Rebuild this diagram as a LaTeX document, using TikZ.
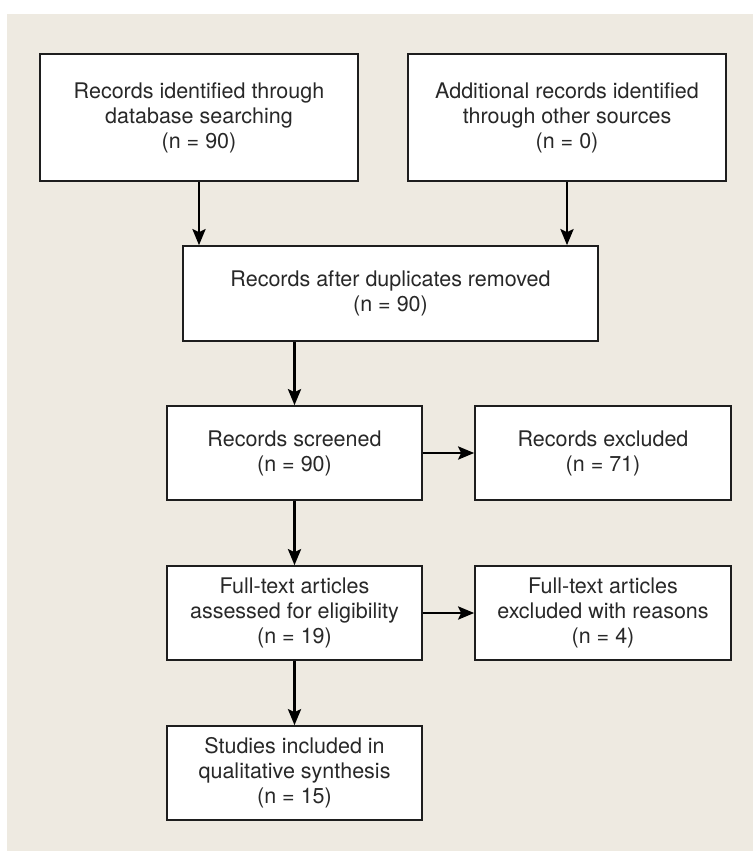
\documentclass[tikz,border=0pt]{standalone}
\usepackage{fontspec}
\setmainfont{TeX Gyre Heros}
\usetikzlibrary{arrows.meta}
\definecolor{bgbeige}{RGB}{238,234,225}
\definecolor{txtgray}{RGB}{40,40,40}
\definecolor{edgegray}{RGB}{30,30,30}
\tikzset{
  box/.style={draw=edgegray, line width=1.6pt, fill=white, rectangle, align=center,
    text=txtgray, font=\fontsize{21.5}{25}\selectfont, inner sep=0pt},
  flow/.style={line width=2.9pt, draw=black, -{Stealth[length=16pt,width=13pt,inset=3pt]}}
}
\begin{document}
\begin{tikzpicture}[x=1pt,y=-1pt]
\useasboundingbox (0,0) rectangle (753,851);
\fill[bgbeige] (7,14) rectangle (753,851);
\node[box, minimum width=318pt, minimum height=127pt] (b1) at (199,117.5)
  {Records identified through\\database searching\\(n = 90)};
\node[box, minimum width=318pt, minimum height=127pt] (b2) at (567,117.5)
  {Additional records identified\\through other sources\\(n = 0)};
\node[box, minimum width=415pt, minimum height=95pt] (b3) at (390.5,293.5)
  {Records after duplicates removed\\(n = 90)};
\node[box, minimum width=255pt, minimum height=94pt] (b4) at (294.5,453)
  {Records screened\\(n = 90)};
\node[box, minimum width=256pt, minimum height=94pt] (b5) at (603,453)
  {Records excluded\\(n = 71)};
\node[box, minimum width=255pt, minimum height=94pt] (b6) at (294.5,613)
  {Full-text articles\\assessed for eligibility\\(n = 19)};
\node[box, minimum width=256pt, minimum height=94pt] (b8) at (603,613)
  {Full-text articles\\excluded with reasons\\(n = 4)};
\node[box, minimum width=255pt, minimum height=94pt] (b7) at (294.5,773)
  {Studies included in\\qualitative synthesis\\(n = 15)};
\draw[flow] (b1.south) -- (b1.south |- b3.north);
\draw[flow] (b2.south) -- (b2.south |- b3.north);
\draw[flow] (b4.north |- b3.south) -- (b4.north);
\draw[flow] (b4.east) -- (b5.west);
\draw[flow] (b4.south) -- (b6.north);
\draw[flow] (b6.east) -- (b8.west);
\draw[flow] (b6.south) -- (b7.north);
\end{tikzpicture}
\end{document}
